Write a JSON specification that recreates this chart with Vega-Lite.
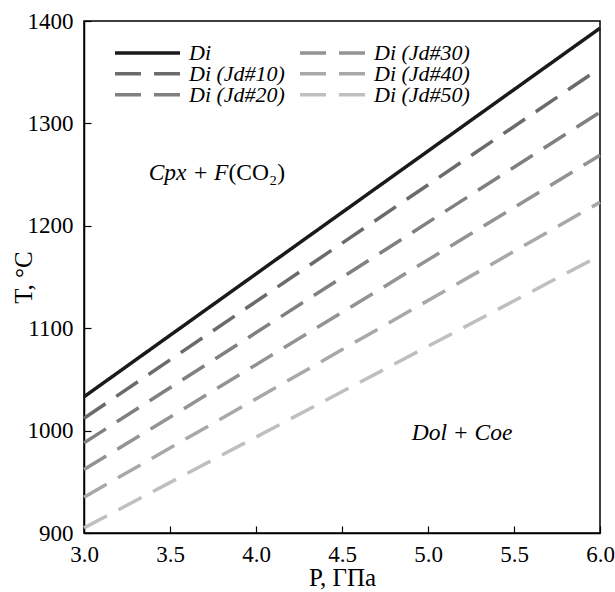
{
  "$schema": "https://vega.github.io/schema/vega-lite/v6.json",
  "width": 516,
  "height": 512,
  "autosize": "none",
  "padding": {"left": 84, "top": 21, "right": 15, "bottom": 59},
  "config": {
    "font": "Liberation Serif",
    "view": {"stroke": "#000", "strokeWidth": 1.5},
    "axis": {
      "grid": false,
      "domainColor": "#000",
      "domainWidth": 1.5,
      "tickColor": "#000",
      "tickWidth": 1.2,
      "tickSize": -7,
      "labelFont": "Liberation Serif",
      "labelFontSize": 23,
      "labelColor": "#000",
      "titleFont": "Liberation Serif",
      "titleFontSize": 25,
      "titleFontWeight": "normal",
      "titleColor": "#000",
      "titleBaseline": "middle"
    }
  },
  "layer": [
    {
      "data": {
        "values": [
          {"P": 3.0, "T": 1033, "series": "Di"},
          {"P": 6.0, "T": 1393, "series": "Di"},
          {"P": 3.0, "T": 1012, "series": "Di (Jd#10)"},
          {"P": 6.0, "T": 1354, "series": "Di (Jd#10)"},
          {"P": 3.0, "T": 988, "series": "Di (Jd#20)"},
          {"P": 6.0, "T": 1311, "series": "Di (Jd#20)"},
          {"P": 3.0, "T": 962, "series": "Di (Jd#30)"},
          {"P": 6.0, "T": 1269, "series": "Di (Jd#30)"},
          {"P": 3.0, "T": 935, "series": "Di (Jd#40)"},
          {"P": 6.0, "T": 1223, "series": "Di (Jd#40)"},
          {"P": 3.0, "T": 905, "series": "Di (Jd#50)"},
          {"P": 6.0, "T": 1171, "series": "Di (Jd#50)"}
        ]
      },
      "mark": {"type": "line", "strokeWidth": 3.5, "strokeCap": "butt"},
      "encoding": {
        "x": {
          "field": "P", "type": "quantitative",
          "scale": {"domain": [3, 6], "nice": false, "zero": false},
          "axis": {"values": [3, 3.5, 4, 4.5, 5, 5.5, 6], "format": ".1f", "labelPadding": 17, "title": "P, ГПа", "titleY": 44, "labelFlush": false}
        },
        "y": {
          "field": "T", "type": "quantitative",
          "scale": {"domain": [900, 1400], "nice": false, "zero": false},
          "axis": {"values": [900, 1000, 1100, 1200, 1300, 1400], "format": "d", "labelPadding": 18, "title": "T, °C", "titleX": -61, "labelFlush": false}
        },
        "stroke": {
          "field": "series", "type": "nominal",
          "scale": {
            "domain": ["Di", "Di (Jd#10)", "Di (Jd#20)", "Di (Jd#30)", "Di (Jd#40)", "Di (Jd#50)"],
            "range": ["#1a1a1a", "#6b6b6b", "#808080", "#939393", "#a8a8a8", "#bfbfbf"]
          },
          "legend": {
            "orient": "none", "legendX": 29, "legendY": 22, "columns": 2, "title": null,
            "symbolType": "M-1,0H1", "symbolSize": 4225, "symbolStrokeWidth": 3.5,
            "clipHeight": 19.5,
            "labelFont": "Liberation Serif", "labelFontSize": 22, "labelFontStyle": "italic",
            "labelColor": "#000", "labelOffset": 7, "columnPadding": 13, "rowPadding": -4
          }
        },
        "strokeDash": {
          "field": "series", "type": "nominal",
          "scale": {
            "domain": ["Di", "Di (Jd#10)", "Di (Jd#20)", "Di (Jd#30)", "Di (Jd#40)", "Di (Jd#50)"],
            "range": [[1, 0], [26, 13], [26, 13], [26, 13], [26, 13], [26, 13]]
          },
          "legend": {
            "orient": "none", "legendX": 29, "legendY": 22, "columns": 2, "title": null,
            "symbolType": "M-1,0H1", "symbolSize": 4225, "symbolStrokeWidth": 3.5,
            "clipHeight": 19.5,
            "labelFont": "Liberation Serif", "labelFontSize": 22, "labelFontStyle": "italic",
            "labelColor": "#000", "labelOffset": 7, "columnPadding": 13, "rowPadding": -4
          }
        }
      }
    },
    {
      "data": {"values": [{"P": 3.84, "T": 1252, "label": "Cpx + F"}]},
      "mark": {"type": "text", "font": "Liberation Serif", "fontSize": 23.5, "fontStyle": "italic", "align": "right", "baseline": "middle", "color": "#000"},
      "encoding": {
        "x": {"field": "P", "type": "quantitative"},
        "y": {"field": "T", "type": "quantitative"},
        "text": {"field": "label"}
      }
    },
    {
      "data": {"values": [{"P": 3.84, "T": 1252, "label": "(CO₂)"}]},
      "mark": {"type": "text", "font": "Liberation Serif", "fontSize": 23.5, "align": "left", "baseline": "middle", "color": "#000"},
      "encoding": {
        "x": {"field": "P", "type": "quantitative"},
        "y": {"field": "T", "type": "quantitative"},
        "text": {"field": "label"}
      }
    },
    {
      "data": {"values": [{"P": 5.198, "T": 998, "label": "Dol + Coe"}]},
      "mark": {"type": "text", "font": "Liberation Serif", "fontSize": 23.5, "fontStyle": "italic", "align": "center", "baseline": "middle", "color": "#000"},
      "encoding": {
        "x": {"field": "P", "type": "quantitative"},
        "y": {"field": "T", "type": "quantitative"},
        "text": {"field": "label"}
      }
    }
  ]
}
